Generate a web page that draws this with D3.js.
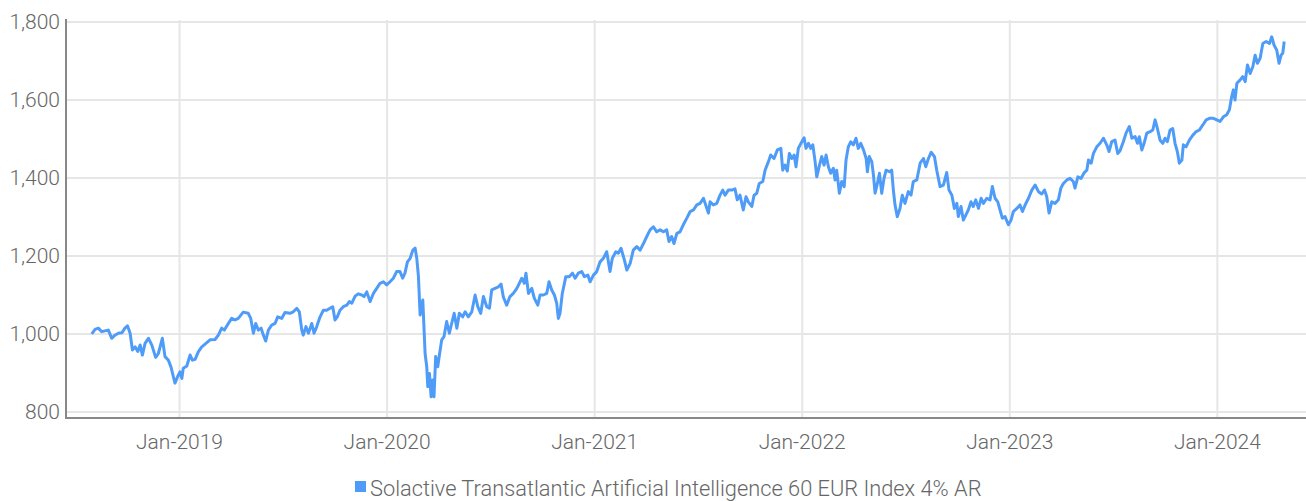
<!DOCTYPE html>
<html lang="en">
<head>
<meta charset="UTF-8">
<title>Solactive Transatlantic Artificial Intelligence 60 EUR Index 4% AR</title>
<style>
  body { margin: 0; background: #fff; overflow: hidden; }
  #chart { display: block; }
  .tick-label { font-family: Roboto, "Noto Sans", sans-serif; font-weight: 300; fill: #666; }
  .grid line { stroke: #e6e6e6; stroke-width: 2; }
  .axis-line { stroke: #888; stroke-width: 2; }
</style>
</head>
<body>
<svg id="chart" width="1306" height="501"></svg>
<script src="https://d3js.org/d3.v7.min.js"></script>
<script>
// time as decimal year
const times = [
  2018.577, 2018.593, 2018.609, 2018.625, 2018.641, 2018.657, 2018.673, 2018.689, 2018.705, 2018.722,
  2018.737, 2018.749, 2018.762, 2018.773, 2018.786, 2018.799, 2018.810, 2018.821, 2018.834, 2018.850,
  2018.866, 2018.885, 2018.898, 2018.917, 2018.930, 2018.946, 2018.959, 2018.970, 2018.978, 2018.991,
  2019.002, 2019.011, 2019.018, 2019.035, 2019.051, 2019.062, 2019.075, 2019.091, 2019.107, 2019.123,
  2019.147, 2019.171, 2019.187, 2019.203, 2019.216, 2019.235, 2019.251, 2019.267, 2019.283, 2019.307,
  2019.331, 2019.343, 2019.356, 2019.367, 2019.380, 2019.393, 2019.404, 2019.415, 2019.428, 2019.444,
  2019.460, 2019.473, 2019.492, 2019.508, 2019.532, 2019.548, 2019.565, 2019.577, 2019.589, 2019.596,
  2019.609, 2019.621, 2019.637, 2019.648, 2019.661, 2019.677, 2019.693, 2019.709, 2019.725, 2019.738,
  2019.749, 2019.760, 2019.773, 2019.789, 2019.806, 2019.818, 2019.830, 2019.846, 2019.861, 2019.878,
  2019.889, 2019.902, 2019.918, 2019.934, 2019.950, 2019.966, 2019.982, 2019.998, 2020.014, 2020.030,
  2020.046, 2020.062, 2020.075, 2020.086, 2020.098, 2020.111, 2020.124, 2020.135, 2020.143, 2020.151,
  2020.159, 2020.172, 2020.183, 2020.191, 2020.196, 2020.204, 2020.212, 2020.220, 2020.226, 2020.234,
  2020.244, 2020.252, 2020.263, 2020.274, 2020.287, 2020.300, 2020.311, 2020.323, 2020.336, 2020.348,
  2020.364, 2020.376, 2020.391, 2020.408, 2020.424, 2020.437, 2020.451, 2020.464, 2020.480, 2020.493,
  2020.504, 2020.520, 2020.536, 2020.549, 2020.560, 2020.576, 2020.592, 2020.608, 2020.625, 2020.649,
  2020.661, 2020.669, 2020.681, 2020.697, 2020.709, 2020.726, 2020.737, 2020.753, 2020.769, 2020.780,
  2020.793, 2020.806, 2020.817, 2020.825, 2020.833, 2020.844, 2020.861, 2020.877, 2020.893, 2020.906,
  2020.921, 2020.938, 2020.950, 2020.967, 2020.978, 2020.994, 2021.010, 2021.026, 2021.042, 2021.058,
  2021.074, 2021.085, 2021.102, 2021.114, 2021.127, 2021.143, 2021.155, 2021.171, 2021.186, 2021.203,
  2021.219, 2021.235, 2021.251, 2021.267, 2021.283, 2021.299, 2021.315, 2021.331, 2021.347, 2021.358,
  2021.371, 2021.382, 2021.396, 2021.411, 2021.427, 2021.444, 2021.460, 2021.476, 2021.492, 2021.508,
  2021.524, 2021.535, 2021.548, 2021.556, 2021.572, 2021.588, 2021.604, 2021.617, 2021.628, 2021.644,
  2021.661, 2021.676, 2021.687, 2021.700, 2021.716, 2021.729, 2021.740, 2021.757, 2021.768, 2021.781,
  2021.793, 2021.810, 2021.821, 2021.837, 2021.848, 2021.864, 2021.880, 2021.897, 2021.906, 2021.917,
  2021.928, 2021.938, 2021.950, 2021.961, 2021.970, 2021.981, 2021.998, 2022.009, 2022.018, 2022.030,
  2022.041, 2022.051, 2022.062, 2022.070, 2022.083, 2022.094, 2022.105, 2022.115, 2022.126, 2022.137,
  2022.150, 2022.158, 2022.166, 2022.179, 2022.190, 2022.202, 2022.211, 2022.222, 2022.234, 2022.246,
  2022.259, 2022.270, 2022.282, 2022.295, 2022.308, 2022.314, 2022.323, 2022.335, 2022.343, 2022.351,
  2022.362, 2022.372, 2022.383, 2022.394, 2022.404, 2022.420, 2022.431, 2022.439, 2022.447, 2022.458,
  2022.471, 2022.482, 2022.495, 2022.511, 2022.524, 2022.535, 2022.552, 2022.568, 2022.584, 2022.595,
  2022.608, 2022.621, 2022.637, 2022.648, 2022.664, 2022.680, 2022.696, 2022.707, 2022.721, 2022.733,
  2022.745, 2022.752, 2022.765, 2022.776, 2022.788, 2022.800, 2022.813, 2022.824, 2022.836, 2022.849,
  2022.862, 2022.873, 2022.889, 2022.905, 2022.916, 2022.929, 2022.942, 2022.953, 2022.964, 2022.977,
  2022.993, 2023.006, 2023.017, 2023.034, 2023.049, 2023.061, 2023.074, 2023.090, 2023.106, 2023.122,
  2023.138, 2023.154, 2023.167, 2023.178, 2023.189, 2023.202, 2023.218, 2023.234, 2023.246, 2023.258,
  2023.275, 2023.290, 2023.306, 2023.314, 2023.328, 2023.343, 2023.359, 2023.371, 2023.379, 2023.392,
  2023.403, 2023.419, 2023.435, 2023.451, 2023.467, 2023.478, 2023.491, 2023.507, 2023.520, 2023.531,
  2023.547, 2023.560, 2023.576, 2023.588, 2023.604, 2023.615, 2023.624, 2023.636, 2023.647, 2023.660,
  2023.676, 2023.689, 2023.700, 2023.711, 2023.724, 2023.737, 2023.748, 2023.759, 2023.772, 2023.785,
  2023.796, 2023.807, 2023.817, 2023.829, 2023.836, 2023.849, 2023.865, 2023.882, 2023.898, 2023.913,
  2023.930, 2023.946, 2023.962, 2023.981, 2023.997, 2024.013, 2024.029, 2024.045, 2024.058, 2024.069,
  2024.077, 2024.085, 2024.094, 2024.109, 2024.122, 2024.134, 2024.145, 2024.158, 2024.171, 2024.182,
  2024.193, 2024.206, 2024.219, 2024.235, 2024.251, 2024.262, 2024.273, 2024.286, 2024.297, 2024.307,
  2024.315, 2024.322
];

const indexValues = [
  1000, 1012, 1015, 1006, 1008, 1010, 989, 997, 1002, 1003,
  1015, 1021, 1002, 959, 967, 955, 972, 946, 976, 989,
  972, 940, 950, 989, 942, 933, 915, 891, 874, 891,
  903, 886, 912, 918, 946, 933, 935, 955, 967, 974,
  985, 986, 997, 1015, 1010, 1027, 1040, 1036, 1040, 1056,
  1053, 1040, 1002, 1027, 1010, 1015, 997, 982, 1010, 1023,
  1027, 1044, 1040, 1055, 1053, 1057, 1066, 1057, 1010, 997,
  1019, 1002, 1027, 1002, 1019, 1044, 1061, 1061, 1066, 1070,
  1036, 1044, 1061, 1070, 1074, 1083, 1079, 1097, 1103, 1100,
  1096, 1108, 1083, 1104, 1117, 1130, 1134, 1126, 1134, 1143,
  1160, 1160, 1143, 1156, 1185, 1194, 1215, 1220, 1194, 1147,
  1049, 1087, 950, 916, 865, 899, 839, 882, 839, 942,
  916, 946, 985, 993, 1032, 1002, 1027, 1053, 1015, 1053,
  1044, 1057, 1044, 1057, 1100, 1070, 1053, 1096, 1070, 1066,
  1113, 1117, 1121, 1128, 1095, 1074, 1096, 1104, 1117, 1143,
  1130, 1156, 1104, 1117, 1092, 1074, 1100, 1100, 1104, 1134,
  1113, 1100, 1079, 1040, 1053, 1104, 1147, 1147, 1156, 1143,
  1156, 1160, 1147, 1151, 1134, 1151, 1160, 1185, 1194, 1211,
  1160, 1194, 1211, 1207, 1220, 1190, 1164, 1181, 1215, 1224,
  1215, 1232, 1250, 1267, 1275, 1262, 1267, 1262, 1267, 1237,
  1250, 1232, 1258, 1262, 1280, 1297, 1314, 1318, 1331, 1335,
  1348, 1331, 1310, 1339, 1331, 1335, 1356, 1369, 1356, 1369,
  1369, 1372, 1344, 1356, 1318, 1352, 1339, 1327, 1356, 1361,
  1386, 1391, 1420, 1442, 1459, 1450, 1472, 1476, 1420, 1433,
  1418, 1463, 1450, 1459, 1429, 1476, 1493, 1503, 1476, 1489,
  1476, 1485, 1442, 1403, 1433, 1455, 1433, 1459, 1429, 1412,
  1425, 1395, 1420, 1361, 1391, 1378, 1446, 1480, 1493, 1485,
  1502, 1476, 1489, 1472, 1450, 1416, 1455, 1442, 1408, 1361,
  1386, 1412, 1361, 1399, 1420, 1416, 1420, 1369, 1331, 1301,
  1322, 1356, 1335, 1365, 1356, 1391, 1395, 1438, 1450, 1429,
  1450, 1466, 1455, 1420, 1378, 1382, 1414, 1369, 1356, 1322,
  1335, 1301, 1327, 1292, 1305, 1318, 1339, 1327, 1344, 1322,
  1348, 1335, 1348, 1344, 1378, 1348, 1339, 1318, 1297, 1301,
  1280, 1292, 1314, 1322, 1331, 1314, 1331, 1348, 1369, 1382,
  1365, 1359, 1369, 1352, 1310, 1339, 1335, 1344, 1374, 1386,
  1395, 1399, 1391, 1374, 1403, 1399, 1414, 1420, 1446, 1438,
  1463, 1480, 1489, 1502, 1485, 1468, 1493, 1497, 1463, 1470,
  1493, 1515, 1532, 1502, 1506, 1489, 1506, 1472, 1489, 1515,
  1519, 1523, 1549, 1527, 1497, 1489, 1502, 1493, 1523, 1527,
  1489, 1468, 1438, 1446, 1485, 1480, 1497, 1510, 1519, 1523,
  1536, 1549, 1553, 1553, 1549, 1545, 1557, 1562, 1575, 1609,
  1626, 1600, 1643, 1651, 1660, 1647, 1690, 1668, 1686, 1715,
  1694, 1707, 1745, 1750, 1745, 1762, 1741, 1728, 1694, 1715,
  1720, 1750
];

const yTicks = [800, 1000, 1200, 1400, 1600, 1800];
const xTicks = [2019, 2020, 2021, 2022, 2023, 2024];
const xTickLabels = ["Jan-2019", "Jan-2020", "Jan-2021", "Jan-2022", "Jan-2023", "Jan-2024"];
const seriesName = "Solactive Transatlantic Artificial Intelligence 60 EUR Index 4% AR";
const lineColor = "#4f9cf8";

const svg = d3.select("#chart");
const plot = { left: 66, right: 1306, top: 22, bottom: 412 };

const x = d3.scaleLinear().domain([2018.453, 2024.427]).range([plot.left, plot.right]);
const y = d3.scaleLinear().domain([800, 1800]).range([plot.bottom, plot.top]);

const data = times.map((t, i) => ({ t, v: indexValues[i] }));

// horizontal grid
svg.append("g").attr("class", "grid")
  .selectAll("line").data(yTicks).join("line")
  .attr("x1", plot.left + 1).attr("x2", plot.right)
  .attr("y1", d => y(d)).attr("y2", d => y(d));

// vertical grid
svg.append("g").attr("class", "grid")
  .selectAll("line").data(xTicks).join("line")
  .attr("x1", d => x(d)).attr("x2", d => x(d))
  .attr("y1", plot.top - 2).attr("y2", plot.bottom + 5);

// axis lines
svg.append("line").attr("class", "axis-line")
  .attr("x1", plot.left).attr("x2", plot.left)
  .attr("y1", plot.top - 3).attr("y2", plot.bottom + 7);
svg.append("line").attr("class", "axis-line")
  .attr("x1", plot.left - 1).attr("x2", plot.right)
  .attr("y1", plot.bottom + 6).attr("y2", plot.bottom + 6);

// y labels
svg.append("g").selectAll("text").data(yTicks).join("text")
  .attr("class", "tick-label")
  .attr("x", plot.left - 6).attr("y", d => y(d))
  .attr("dy", "0.35em")
  .attr("text-anchor", "end")
  .style("font-size", "21px")
  .text(d => d3.format(",")(d));

// x labels
svg.append("g").selectAll("text").data(xTicks).join("text")
  .attr("class", "tick-label")
  .attr("x", d => x(d)).attr("y", 449)
  .attr("text-anchor", "middle")
  .style("font-size", "21px")
  .text((d, i) => xTickLabels[i]);

// series line
const line = d3.line().x(d => x(d.t)).y(d => y(d.v));
svg.append("path").datum(data)
  .attr("fill", "none")
  .attr("stroke", lineColor)
  .attr("stroke-width", 3)
  .attr("stroke-linejoin", "round")
  .attr("d", line);

// legend
const legend = svg.append("g");
legend.append("rect")
  .attr("x", 355).attr("y", 481).attr("width", 11).attr("height", 11)
  .attr("fill", lineColor);
legend.append("text")
  .attr("class", "tick-label")
  .attr("x", 370).attr("y", 496)
  .style("font-size", "21.8px")
  .text(seriesName);
</script>
</body>
</html>
